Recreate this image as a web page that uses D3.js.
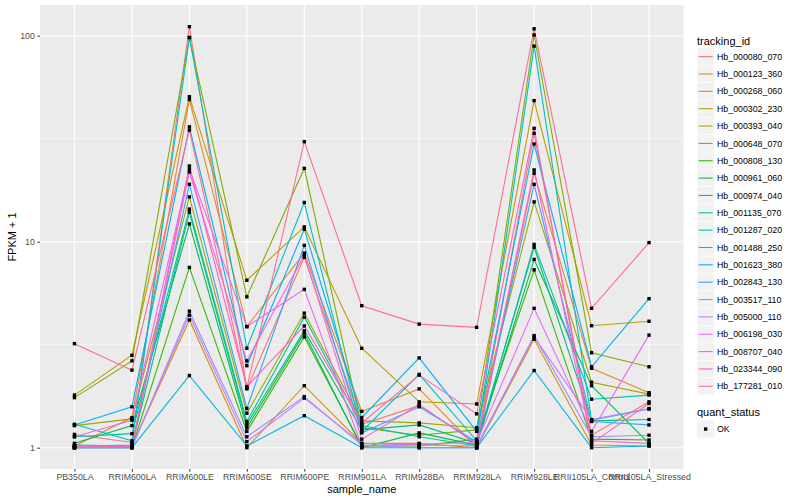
<!DOCTYPE html>
<html>
<head>
<meta charset="utf-8">
<script src="https://cdn.jsdelivr.net/npm/d3@7"></script>
<style>
  body { margin: 0; background: #fff; }
  text { font-family: "Liberation Sans", Arial, sans-serif; }
</style>
</head>
<body>
<svg id="chart" width="800" height="500"></svg>
<script>
// samples on the x axis
var samples = ["PB350LA", "RRIM600LA", "RRIM600LE", "RRIM600SE", "RRIM600PE", "RRIM901LA",
  "RRIM928BA", "RRIM928LA", "RRIM928LE", "RRII105LA_Control", "RRII105LA_Stressed"];

// FPKM + 1 per gene, one value per sample
var hb_000080_070 = [1.16, 1.06, 110.6, 1.93, 8.4, 1.3, 1.6, 1.05, 33.6, 1.15, 1.67];
var hb_000123_360 = [1.02, 1.4, 49, 3.87, 8.8, 1.5, 1.93, 1.0, 21.5, 2.43, 1.85];
var hb_000268_060 = [1.0, 1.02, 4.17, 1.0, 2.0, 1.05, 1.05, 1.0, 3.36, 1.03, 1.02];
var hb_000302_230 = [1.8, 2.81, 50.6, 6.5, 11.8, 3.04, 1.67, 1.63, 48.4, 3.91, 4.11];
var hb_000393_040 = [1.28, 1.38, 16.5, 1.47, 4.5, 1.35, 1.32, 1.25, 15.6, 2.08, 1.82];
var hb_000648_070 = [1.75, 2.64, 98, 5.4, 22.7, 1.25, 1.15, 1.22, 100.8, 2.89, 2.47];
var hb_000808_130 = [1.0, 1.0, 7.5, 1.2, 3.45, 1.02, 1.02, 1.1, 7.3, 1.1, 1.09];
var hb_000961_060 = [1.05, 1.28, 12.2, 1.25, 3.6, 1.0, 1.18, 1.03, 8.2, 2.0, 1.05];
var hb_000974_040 = [1.03, 1.02, 13.9, 1.3, 3.7, 1.22, 1.29, 1.05, 9.4, 1.35, 1.37];
var hb_001135_070 = [1.13, 1.17, 14.4, 1.34, 4.3, 1.28, 1.13, 1.02, 9.7, 1.72, 1.8];
var hb_001287_020 = [1.3, 1.08, 98, 3.04, 15.5, 1.2, 2.27, 1.08, 89, 1.36, 1.54];
var hb_001488_250 = [1.0, 1.0, 2.24, 1.02, 1.43, 1.0, 1.0, 1.0, 2.37, 1.0, 1.02];
var hb_001623_380 = [1.29, 1.58, 36.1, 2.5, 11.5, 1.4, 2.73, 1.2, 29.8, 2.47, 5.29];
var hb_002843_130 = [1.02, 1.03, 19, 1.55, 9.6, 1.18, 1.58, 1.07, 19, 1.34, 1.29];
var hb_003517_110 = [1.0, 1.0, 4.6, 1.13, 1.77, 1.03, 1.0, 1.0, 3.5, 1.13, 1.15];
var hb_005000_110 = [1.0, 1.01, 4.4, 1.07, 1.74, 1.05, 1.03, 1.02, 3.45, 1.37, 1.55];
var hb_006198_030 = [1.13, 1.36, 22.5, 3.87, 5.87, 1.02, 1.04, 1.06, 4.75, 1.2, 3.52];
var hb_008707_040 = [1.02, 1.02, 21.8, 2.64, 8.6, 1.1, 1.62, 1.04, 22.3, 1.08, 1.05];
var hb_023344_090 = [1.01, 1.01, 23.3, 1.98, 3.9, 1.32, 2.25, 1.46, 35.5, 1.05, 1.64];
var hb_177281_010 = [3.2, 2.38, 34.8, 1.95, 30.6, 4.89, 3.98, 3.84, 108, 4.75, 9.9];

var trackingIds = ["Hb_000080_070", "Hb_000123_360", "Hb_000268_060", "Hb_000302_230", "Hb_000393_040",
  "Hb_000648_070", "Hb_000808_130", "Hb_000961_060", "Hb_000974_040", "Hb_001135_070",
  "Hb_001287_020", "Hb_001488_250", "Hb_001623_380", "Hb_002843_130", "Hb_003517_110",
  "Hb_005000_110", "Hb_006198_030", "Hb_008707_040", "Hb_023344_090", "Hb_177281_010"];
var seriesValues = [hb_000080_070, hb_000123_360, hb_000268_060, hb_000302_230, hb_000393_040,
  hb_000648_070, hb_000808_130, hb_000961_060, hb_000974_040, hb_001135_070,
  hb_001287_020, hb_001488_250, hb_001623_380, hb_002843_130, hb_003517_110,
  hb_005000_110, hb_006198_030, hb_008707_040, hb_023344_090, hb_177281_010];

var yTicks = [1, 10, 100];
var yMinor = [Math.sqrt(10), Math.sqrt(1000)];
var statusLevels = ["OK"];

var colors = ["#F8766D", "#EA8331", "#D89000", "#C09B00", "#A3A500", "#7CAE00", "#39B600", "#00BB4E",
  "#00BF7D", "#00C1A3", "#00BFC4", "#00BAE0", "#00B0F6", "#35A2FF", "#9590FF", "#C77CFF",
  "#E76BF3", "#FA62DB", "#FF62BC", "#FF6C91"];

var series = trackingIds.map(function(id, i) {
  return { id: id, color: colors[i], values: seriesValues[i].map(function(v, j) {
    return { sample: samples[j], value: v };
  }) };
});

var svg = d3.select("#chart");
var panel = { left: 40, right: 683.5, top: 5, bottom: 469 };

var step = (panel.right - panel.left) / (samples.length - 1 + 1.2);
var x = d3.scalePoint().domain(samples)
  .range([panel.left + 0.6 * step, panel.right - 0.6 * step]);
var y = d3.scaleLog().domain([1, 100]).range([447.7, 35.7]);

// panel background
svg.append("rect")
  .attr("x", panel.left).attr("y", panel.top)
  .attr("width", panel.right - panel.left).attr("height", panel.bottom - panel.top)
  .attr("fill", "#EBEBEB");

// grid
svg.selectAll(".minor").data(yMinor).enter().append("line")
  .attr("x1", panel.left).attr("x2", panel.right)
  .attr("y1", function(d) { return y(d); }).attr("y2", function(d) { return y(d); })
  .attr("stroke", "#fff").attr("stroke-width", 0.55);
svg.selectAll(".hmajor").data(yTicks).enter().append("line")
  .attr("x1", panel.left).attr("x2", panel.right)
  .attr("y1", function(d) { return y(d); }).attr("y2", function(d) { return y(d); })
  .attr("stroke", "#fff").attr("stroke-width", 1.1);
svg.selectAll(".vmajor").data(samples).enter().append("line")
  .attr("y1", panel.top).attr("y2", panel.bottom)
  .attr("x1", function(d) { return x(d); }).attr("x2", function(d) { return x(d); })
  .attr("stroke", "#fff").attr("stroke-width", 1.1);

// lines
var line = d3.line()
  .x(function(d) { return x(d.sample); })
  .y(function(d) { return y(d.value); });

svg.selectAll(".gene").data(series).enter().append("path")
  .attr("d", function(d) { return line(d.values); })
  .attr("fill", "none")
  .attr("stroke", function(d) { return d.color; })
  .attr("stroke-width", 1.1);

// points
var pts = [];
series.forEach(function(s) { s.values.forEach(function(p) { pts.push(p); }); });
var ps = 3.4;
svg.selectAll(".pt").data(pts).enter().append("rect")
  .attr("x", function(d) { return x(d.sample) - ps / 2; })
  .attr("y", function(d) { return y(d.value) - ps / 2; })
  .attr("width", ps).attr("height", ps)
  .attr("fill", "#000");

// axes
var xAxis = d3.axisBottom(x).tickSize(2.7).tickPadding(2.5);
var gx = svg.append("g").attr("transform", "translate(0," + panel.bottom + ")").call(xAxis);
gx.select(".domain").remove();
gx.selectAll("line").attr("stroke", "#333");
gx.selectAll("text").attr("fill", "#4D4D4D").style("font-size", "8.8px")
  .style("font-family", "'Liberation Sans', Arial, sans-serif");

var yAxis = d3.axisLeft(y).tickValues(yTicks).tickFormat(d3.format("d")).tickSize(2.7).tickPadding(2.5);
var gy = svg.append("g").attr("transform", "translate(" + panel.left + ",0)").call(yAxis);
gy.select(".domain").remove();
gy.selectAll("line").attr("stroke", "#333");
gy.selectAll("text").attr("fill", "#4D4D4D").style("font-size", "8.8px")
  .style("font-family", "'Liberation Sans', Arial, sans-serif");

// axis titles
svg.append("text").attr("x", (panel.left + panel.right) / 2).attr("y", 493)
  .attr("text-anchor", "middle").style("font-size", "11px").attr("fill", "#000")
  .text("sample_name");
svg.append("text").attr("transform", "translate(16," + (panel.top + panel.bottom) / 2 + ") rotate(-90)")
  .attr("text-anchor", "middle").style("font-size", "11px").attr("fill", "#000")
  .text("FPKM + 1");

// legend: tracking_id
var lg = svg.append("g").attr("transform", "translate(697,0)");
lg.append("text").attr("x", 0).attr("y", 44.5).style("font-size", "11px").text("tracking_id");
var keyH = 17.35, key0 = 48;
var keys = lg.selectAll(".key").data(series).enter().append("g")
  .attr("transform", function(d, i) { return "translate(0," + (key0 + i * keyH) + ")"; });
keys.append("rect").attr("width", 17.3).attr("height", 17.3)
  .attr("fill", "#F2F2F2").attr("stroke", "#fff").attr("stroke-width", 0.5);
keys.append("line").attr("x1", 1.7).attr("x2", 15.6)
  .attr("y1", 8.65).attr("y2", 8.65)
  .attr("stroke", function(d) { return d.color; }).attr("stroke-width", 1.1);
keys.append("text").attr("x", 20).attr("y", 11.8).style("font-size", "8.8px")
  .text(function(d) { return d.id; });

// legend: quant_status
var lq = svg.append("g").attr("transform", "translate(697,0)");
lq.append("text").attr("x", 0).attr("y", 416).style("font-size", "11px").text("quant_status");
var qk = lq.selectAll(".qkey").data(statusLevels).enter().append("g")
  .attr("transform", function(d, i) { return "translate(0," + (420.4 + i * keyH) + ")"; });
qk.append("rect").attr("width", 17.3).attr("height", 17.3).attr("fill", "#F2F2F2");
qk.append("rect").attr("x", 8.65 - ps / 2).attr("y", 8.65 - ps / 2)
  .attr("width", ps).attr("height", ps).attr("fill", "#000");
qk.append("text").attr("x", 20).attr("y", 11.8).style("font-size", "8.8px")
  .text(function(d) { return d; });
</script>
</body>
</html>
